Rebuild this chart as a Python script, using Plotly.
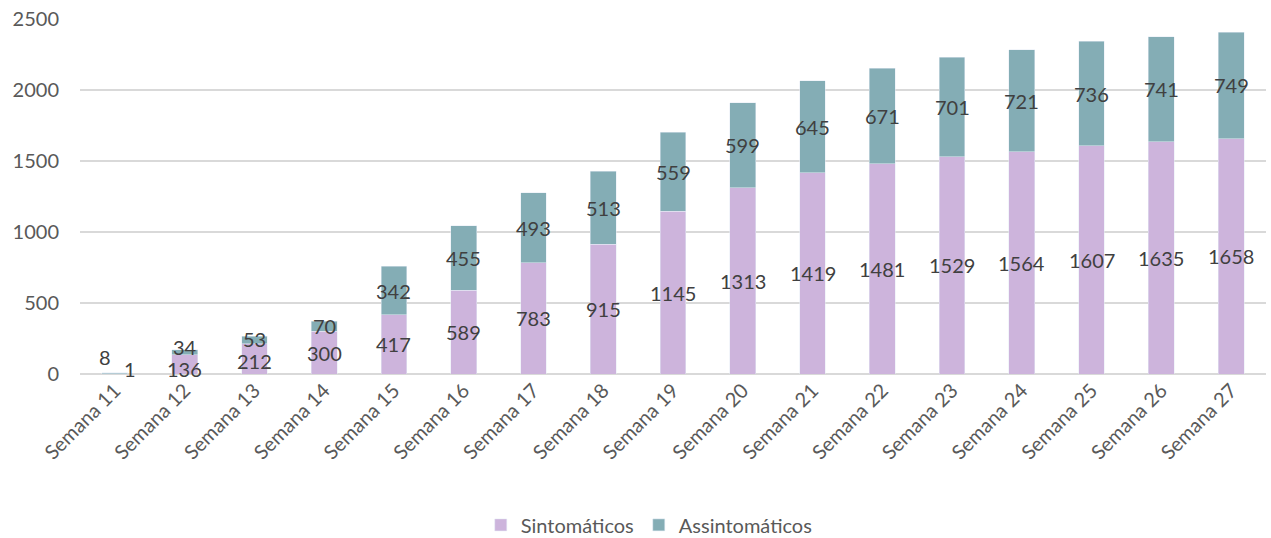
import plotly.graph_objects as go

semanas = [f"Semana {n}" for n in range(11, 28)]
sintomaticos = [1, 136, 212, 300, 417, 589, 783, 915, 1145, 1313, 1419, 1481, 1529, 1564, 1607, 1635, 1658]
assintomaticos = [8, 34, 53, 70, 342, 455, 493, 513, 559, 599, 645, 671, 701, 721, 736, 741, 749]

COR_SINT = "#CDB4DC"
COR_ASSINT = "#84ADB5"
FONTE = "Lato, 'Open Sans', sans-serif"
Y_MAX = 2500

MARGEM = dict(l=80, r=5, t=19, b=164, autoexpand=False)
ALTURA = 538
px_por_unidade = (ALTURA - MARGEM["t"] - MARGEM["b"]) / Y_MAX

fig = go.Figure()
fig.add_bar(x=semanas, y=sintomaticos, name="Sintomáticos", marker_color=COR_SINT,
            width=0.37, hoverinfo="skip")
fig.add_bar(x=semanas, y=assintomaticos, name="Assintomáticos", marker_color=COR_ASSINT,
            width=0.37, hoverinfo="skip")

# value labels centred on each stacked segment, nudged apart when segments are thin
ALTURA_TEXTO = 22
for sem, s, a in zip(semanas, sintomaticos, assintomaticos):
    y_s, y_a = s / 2, s + a / 2
    shift_s = shift_a = 0
    xs_s = xs_a = 0
    if s + a < 20:
        # very small bar: put the two labels side by side
        xs_a, shift_a = -10, 16
        xs_s, shift_s = 15, 5
    else:
        gap = (y_a - y_s) * px_por_unidade
        if gap < ALTURA_TEXTO:
            extra = (ALTURA_TEXTO - gap) / 2
            shift_a, shift_s = extra, -extra
    for val, yv, dy, dx in ((s, y_s, shift_s, xs_s), (a, y_a, shift_a, xs_a)):
        fig.add_annotation(x=sem, y=yv, text=str(val), showarrow=False,
                           xshift=dx, yshift=dy,
                           font=dict(size=20, color="#404040", family=FONTE))

fig.update_layout(
    barmode="stack",
    width=1271, height=ALTURA,
    margin=MARGEM,
    paper_bgcolor="white", plot_bgcolor="white",
    font=dict(family=FONTE, size=20, color="#595959"),
    legend=dict(orientation="h", x=0.48, xanchor="center", y=-0.425, yanchor="middle",
                font=dict(size=20, color="#595959"), traceorder="normal"),
    xaxis=dict(tickangle=-45, showgrid=False, showline=False, ticks="", automargin=False,
               tickfont=dict(size=20, color="#595959")),
    yaxis=dict(range=[0, Y_MAX], dtick=500, showgrid=True, gridcolor="#D9D9D9",
               gridwidth=1.5, zeroline=True, zerolinecolor="#D9D9D9", zerolinewidth=1.5,
               ticks="", automargin=False, ticklabelstandoff=20,
               tickfont=dict(size=20, color="#595959")),
)

fig.write_html("out.html")
